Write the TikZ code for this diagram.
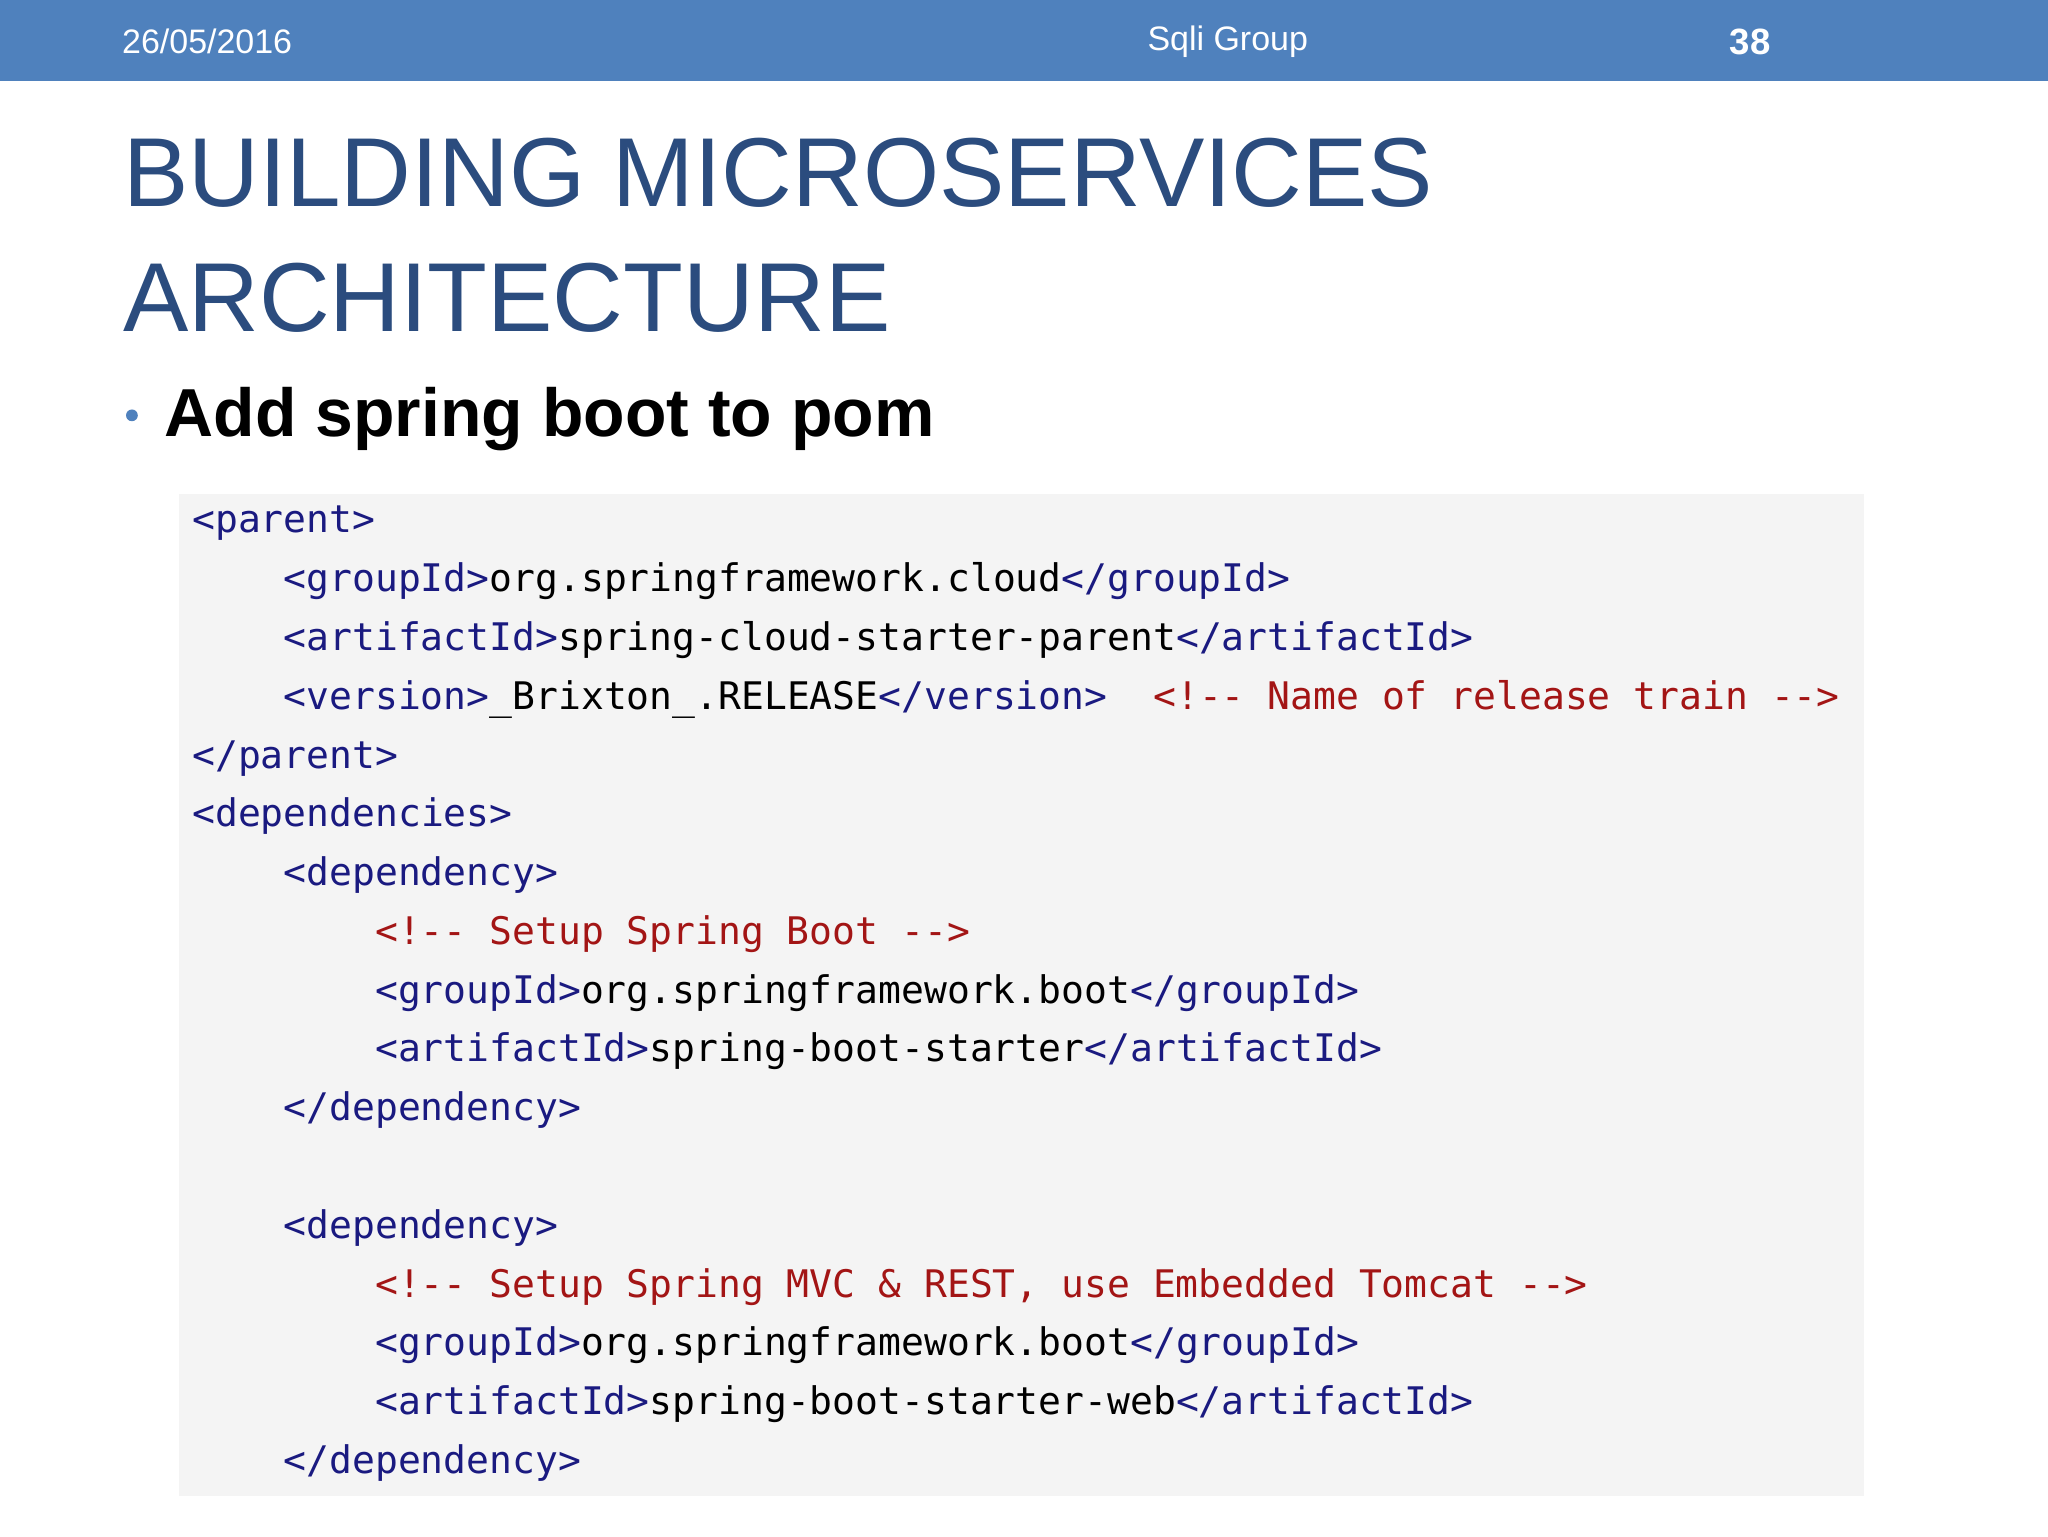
\documentclass[tikz,border=0pt]{standalone}
\usepackage{fontspec}
\setmainfont{Liberation Sans}
\setmonofont{DejaVu Sans Mono}
\definecolor{bar}{HTML}{4F81BD}
\definecolor{ttl}{HTML}{2B4C7E}
\definecolor{tagc}{HTML}{1A1A80}
\definecolor{cmt}{HTML}{A31515}
\definecolor{codebg}{HTML}{F4F4F4}
\newcommand{\tg}[1]{\textcolor{tagc}{#1}}
\newcommand{\cm}[1]{\textcolor{cmt}{#1}}
\begin{document}
\begin{tikzpicture}[x=1pt,y=-1pt,
  code/.style={anchor=base west,inner sep=0pt,font=\fontsize{29.1}{30}\ttfamily}]
\useasboundingbox (0,0) rectangle (1568,1176);
\fill[white] (0,0) rectangle (1568,1176);
\fill[bar] (0,0) rectangle (1568,62);
\node[anchor=west,white,font=\fontsize{26}{28}\selectfont] (date) at (90,32) {26/05/2016};
\node[white,font=\fontsize{26}{28}\selectfont] (grp) at (940,32) {Sqli Group};
\node[white,font=\fontsize{28}{30}\bfseries] (num) at (1340,32) {38};
\node[anchor=base west,inner sep=0pt,ttl,font=\fontsize{75}{78}\selectfont] (t1) at (94,158) {BUILDING MICROSERVICES};
\node[anchor=base west,inner sep=0pt,ttl,font=\fontsize{75}{78}\selectfont] (t2) at (94,254) {ARCHITECTURE};
\fill[bar] (101,318) circle (4.5);
\node[anchor=base west,inner sep=0pt,font=\fontsize{52}{54}\bfseries] (b) at (126,334) {Add spring boot to pom};
\fill[codebg] (137,378) rectangle (1427,1145);
\node[code] (l1) at (147,408) {\tg{<parent>}};
\node[code] (l2) at (217,453) {\tg{<groupId>}org.springframework.cloud\tg{</groupId>}};
\node[code] (l3) at (217,498) {\tg{<artifactId>}spring-cloud-starter-parent\tg{</artifactId>}};
\node[code] (l4) at (217,543) {\tg{<version>}\_Brixton\_.RELEASE\tg{</version>}\ \ \cm{<!-{}- Name of release train -{}->}};
\node[code] (l5) at (147,588) {\tg{</parent>}};
\node[code] (l6) at (147,633) {\tg{<dependencies>}};
\node[code] (l7) at (217,678) {\tg{<dependency>}};
\node[code] (l8) at (287,723) {\cm{<!-{}- Setup Spring Boot -{}->}};
\node[code] (l9) at (287,768) {\tg{<groupId>}org.springframework.boot\tg{</groupId>}};
\node[code] (l10) at (287,813) {\tg{<artifactId>}spring-boot-starter\tg{</artifactId>}};
\node[code] (l11) at (217,858) {\tg{</dependency>}};
\node[code] (l12) at (217,948) {\tg{<dependency>}};
\node[code] (l13) at (287,993) {\cm{<!-{}- Setup Spring MVC \& REST, use Embedded Tomcat -{}->}};
\node[code] (l14) at (287,1038) {\tg{<groupId>}org.springframework.boot\tg{</groupId>}};
\node[code] (l15) at (287,1083) {\tg{<artifactId>}spring-boot-starter-web\tg{</artifactId>}};
\node[code] (l16) at (217,1128) {\tg{</dependency>}};
\end{tikzpicture}
\end{document}
